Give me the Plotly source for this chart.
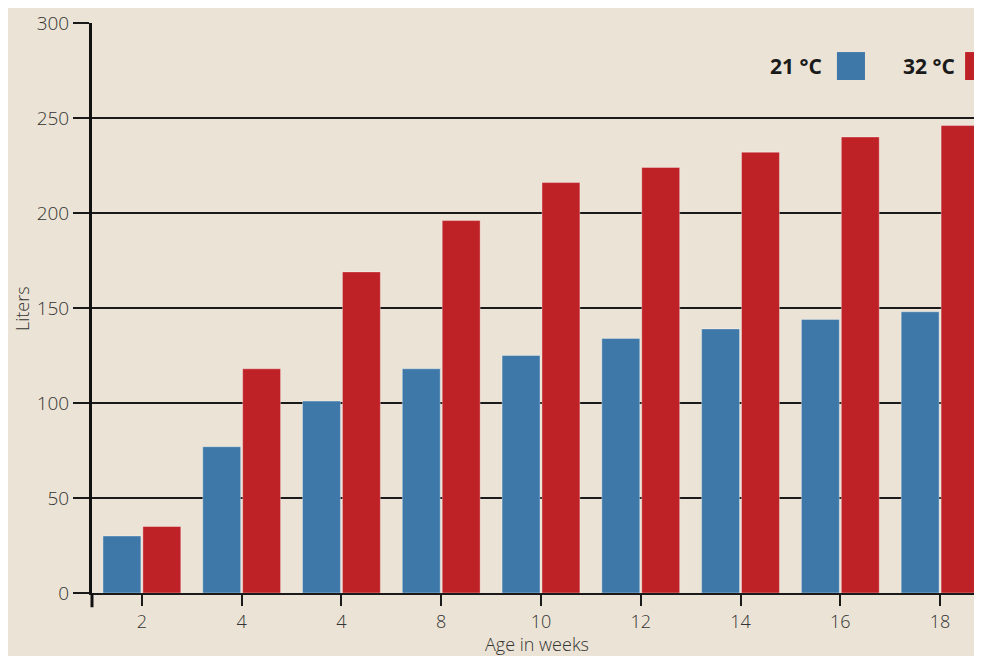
import numpy as np
import plotly.graph_objects as go

weeks = ["2", "4", "4", "8", "10", "12", "14", "16", "18"]
liters_21c = [30, 77, 101, 118, 125, 134, 139, 144, 148]
liters_32c = [35, 118, 169, 196, 216, 224, 232, 240, 246]

blue = "#3e78a8"
red = "#be2126"
ink = "#1a1a1a"
paper = "#ebe3d5"

x = np.arange(len(weeks))

fig = go.Figure()
fig.add_trace(go.Bar(x=x, y=liters_21c, name="21 °C",
                     marker=dict(color=blue, line=dict(color="rgba(255,255,255,0.35)", width=1))))
fig.add_trace(go.Bar(x=x, y=liters_32c, name="32 °C",
                     marker=dict(color=red, line=dict(color="rgba(255,255,255,0.35)", width=1))))

# page body has an 8px margin, so the figure is sized to fit the window without scrollbars
fig.update_layout(
    width=974, height=648,
    margin=dict(l=84, r=0, t=15, b=63),
    paper_bgcolor=paper, plot_bgcolor=paper,
    barmode="group", bargap=0.2, bargroupgap=0.05,
    showlegend=False,
    font=dict(family="Open Sans", color="#333333", size=19, weight=300),
)

fig.update_xaxes(
    range=[-0.5, 8.42], automargin=False,
    tickvals=x, ticktext=weeks, tickfont=dict(size=18),
    showgrid=False, zeroline=False,
    showline=True, linecolor=ink, linewidth=2,
    ticks="outside", ticklen=11, tickwidth=2, tickcolor=ink,
)
fig.update_yaxes(
    range=[0, 300], tickvals=[0, 50, 100, 150, 200, 250, 300], automargin=False,
    showgrid=True, gridcolor=ink, gridwidth=2, zeroline=False,
    showline=True, linecolor="#111111", linewidth=3,
    ticks="outside", ticklen=16, tickwidth=2, tickcolor=ink,
)

# axis titles placed by hand so they sit where the original has them
fig.add_annotation(text="Age in weeks", xref="paper", yref="paper", x=0.5, y=-0.09,
                   xanchor="center", yanchor="middle", showarrow=False, font=dict(size=18))
fig.add_annotation(text="Liters", xref="paper", yref="paper", x=-0.0787, y=0.5, textangle=-90,
                   xanchor="center", yanchor="middle", showarrow=False, font=dict(size=18))

# y-axis line runs a little below the x-axis
fig.add_shape(type="line", xref="paper", yref="paper", x0=0, x1=0, y0=0, y1=-0.025,
              line=dict(color="#111111", width=3))

# legend: label then swatch
for label, color, tx, sx in [("21 °C", blue, 0.822, 0.837), ("32 °C", red, 0.972, 0.981)]:
    fig.add_annotation(text="<b>" + label + "</b>", xref="paper", yref="paper",
                       x=tx, y=0.9246, xanchor="right", yanchor="middle", showarrow=False,
                       font=dict(size=21, color=ink, family="Open Sans", weight=700))
    fig.add_shape(type="rect", xref="paper", yref="paper", x0=sx, x1=sx + 0.0315,
                  y0=0.900, y1=0.949, line=dict(width=0), fillcolor=color)

fig.write_html("out.html")
